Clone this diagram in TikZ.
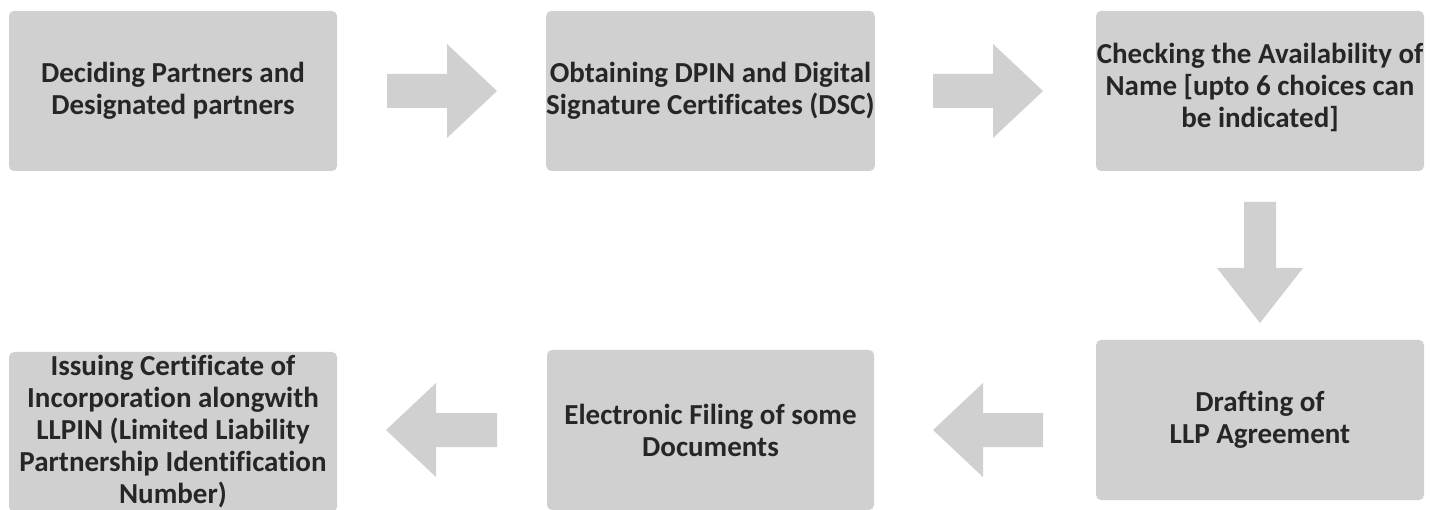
\documentclass[tikz,border=0pt]{standalone}
\usepackage{fontspec}
\setmainfont{Carlito}[Ligatures={NoCommon,NoContextual}]
\definecolor{boxgray}{HTML}{D0D0D0}
\definecolor{txt}{HTML}{262626}
\begin{document}
\begin{tikzpicture}[x=1pt,y=-1pt,
  steptext/.style={align=center,text=txt,inner sep=0pt,font=\bfseries\fontsize{29}{32}\selectfont},
  stepbox/.style={steptext,fill=boxgray,rounded corners=5pt,minimum width=328pt,minimum height=160pt},
  blockarrow/.style={fill=boxgray}]
\useasboundingbox (0,0) rectangle (1440,510);
\node[stepbox] (b1) at (173,91) {Deciding Partners and\\Designated partners};
\node[stepbox,minimum width=327pt] (b2) at (710.5,91) {Obtaining DPIN and Digital\\Signature Certificates (DSC)};
\node[stepbox] (b3) at (1260,91) {};
\node[steptext] (t3) at (1260,87) {Checking the Availability of\\Name [upto 6 choices can\\be indicated]};
\node[stepbox] (b4) at (1260,420) {Drafting of\\LLP Agreement};
\node[stepbox,minimum width=327pt] (b5) at (710.5,430) {Electronic Filing of some\\Documents};
\node[stepbox] (b6) at (173,432) {Issuing Certificate of\\Incorporation alongwith\\LLPIN (Limited Liability\\Partnership Identification\\Number)};
% block arrows
\fill[blockarrow] (387,74) -- (447,74) -- (447,44) -- (497,91) -- (447,138) -- (447,108) -- (387,108) -- cycle;
\fill[blockarrow] (933,74) -- (993,74) -- (993,44) -- (1043,91) -- (993,138) -- (993,108) -- (933,108) -- cycle;
\fill[blockarrow] (1244,202) -- (1276,202) -- (1276,268) -- (1303,268) -- (1260,323) -- (1217,268) -- (1244,268) -- cycle;
\fill[blockarrow] (1043,413) -- (983,413) -- (983,383) -- (933,430) -- (983,477) -- (983,447) -- (1043,447) -- cycle;
\fill[blockarrow] (497,413) -- (436,413) -- (436,383) -- (386,430) -- (436,477) -- (436,447) -- (497,447) -- cycle;
\end{tikzpicture}
\end{document}
